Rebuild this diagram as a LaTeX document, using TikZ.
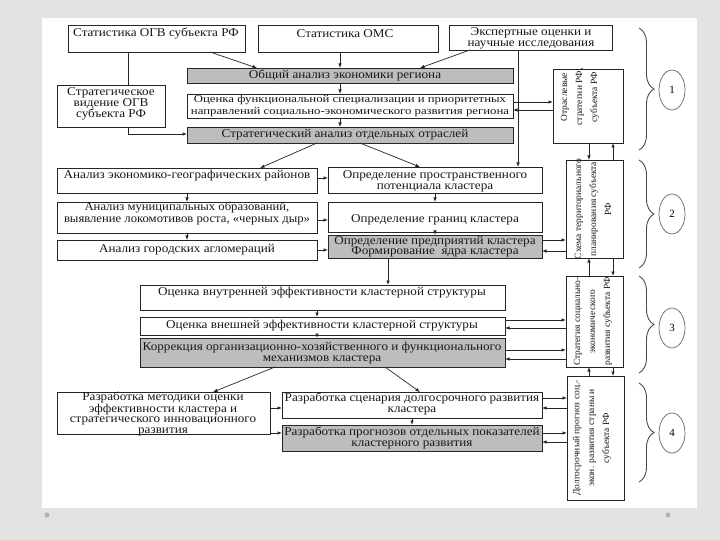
\documentclass[tikz,border=0pt]{standalone}
\usepackage{fontspec}
\setmainfont{Liberation Serif}
\newfontfamily\wf{Liberation Serif}[FakeStretch=1.1]
\newfontfamily\wfb{Liberation Serif}[FakeStretch=1.06]
\newfontfamily\wfw{Liberation Serif}[FakeStretch=1.22]
\usetikzlibrary{arrows.meta,fit,shapes.geometric,decorations.pathreplacing}
\newcommand\bx[6]{\node[#1,fit={(#3,#4) (#5,#6)}] (#2) {};}
\begin{document}
\begin{tikzpicture}[x=1bp,y=-1bp,
 box/.style={draw=black!85,line width=0.7bp,inner sep=0pt,outer sep=0pt},
 gbox/.style={box,fill=gray!52},
 txt/.style={inner sep=0pt,align=center,text=black!90},
 fA/.style={font=\wf\fontsize{12}{12}\selectfont},
 fS/.style={font=\wf\fontsize{12}{11}\selectfont},
 fR/.style={font=\fontsize{9.5}{15}\selectfont,rotate=90},
 arr/.style={draw=black!85,line width=0.7bp,-{Latex[length=4.5bp,width=3.5bp]}},
 ln/.style={draw=black!85,line width=0.7bp},
 brc/.style={draw=black!70,line width=0.9bp,decorate,decoration={brace,amplitude=15bp}},
 num/.style={draw=black!60,line width=0.7bp,ellipse,minimum width=26bp,minimum height=40bp,inner sep=0pt,font=\fontsize{11}{12}\selectfont}]
\useasboundingbox (0,0) rectangle (720,540);
\fill[gray!22] (0,0) rectangle (720,540);
\fill[white] (42,18) rectangle (697,508);
\fill[gray!60] (47,515) circle (2.5);
\fill[gray!60] (668,515) circle (2.5);

% section 1
\bx{box}{ogv}{68}{25}{245}{52}
\bx{box}{oms}{258}{25}{438}{52}
\bx{box}{eksp}{449}{25}{612}{50}
\bx{gbox}{obsh}{187}{68}{513}{83}
\bx{box}{ocen}{187}{94}{513}{118}
\bx{gbox}{strat}{187}{127}{513}{143}
\bx{box}{vis}{57}{85}{165}{127}
\bx{box}{otr}{553}{69}{623}{143}

\node[txt,fA] (t1) at (156,34) {Статистика ОГВ субъекта РФ};
\node[txt,fA] (t2) at (345,34) {Статистика ОМС};
\node[txt,fS] (t3) at (531,38) {Экспертные оценки и\\научные исследования};
\node[txt,fA] (t4) at (345,75.5) {Общий анализ экономики региона};
\node[txt,font=\wfw\fontsize{10.5}{11.5}\selectfont] (t5) at (350,106) {Оценка функциональной специализации и приоритетных\\направлений социально-экономического развития региона};
\node[txt,fA] (t6) at (345,135) {Стратегический анализ отдельных отраслей};
\node[txt,fS] (t7) at (111,104) {Стратегическое\\видение ОГВ\\субъекта РФ};
\node[txt,fR] (t8) at (580,97) {Отраслевые\\стратегии РФ,\\субъекта РФ};

% section 2
\bx{box}{ekgeo}{57}{168}{317}{193}
\bx{box}{munic}{57}{202}{317}{233}
\bx{box}{aglo}{57}{240}{317}{260}
\bx{box}{potent}{328}{167}{542}{193}
\bx{box}{granic}{328}{202}{542}{232}
\bx{gbox}{predpr}{328}{235}{542}{258}
\bx{box}{shema}{566}{160}{623}{258}

\node[txt,fA] (t12) at (187,176) {Анализ экономико-географических районов};
\node[txt,font=\wfb\fontsize{12}{13}\selectfont] (t13) at (187,213.5) {Анализ муниципальных образований,\\выявление локомотивов роста, «черных дыр»};
\node[txt,fA] (t14) at (187,249.5) {Анализ городских агломераций};
\node[txt,fS] (t15) at (435,181) {Определение пространственного\\потенциала кластера};
\node[txt,fA] (t16) at (435,220) {Определение границ кластера};
\node[txt,font=\wf\fontsize{12}{10.5}\selectfont] (t17) at (435,246.5) {Определение предприятий кластера\\Формирование\ \ ядра кластера};
\node[txt,fR] (t9) at (593,209) {Схема территориального\\планирования субъекта\\РФ};

% section 3
\bx{box}{vnutr}{140}{285}{505}{310}
\bx{box}{vnesh}{140}{317}{505}{335}
\bx{gbox}{korr}{140}{338}{505}{367}
\bx{box}{strsub}{566}{276}{623}{367}
\node[txt,fA] (t18) at (322,293) {Оценка внутренней эффективности кластерной структуры};
\node[txt,fA] (t19) at (322,326) {Оценка внешней эффективности кластерной структуры};
\node[txt,fS] (t20) at (322,353.5) {Коррекция организационно-хозяйственного и функционального\\механизмов кластера};
\node[txt,fR] (t10) at (593,321.5) {Стратегия социально-\\экономического\\развития субъекта РФ};

% section 4
\bx{box}{metod}{57}{392}{270}{434}
\bx{box}{scen}{282}{392}{542}{418}
\bx{gbox}{progn}{282}{425}{542}{451}
\bx{box}{dolg}{567}{376}{624}{500}
\node[txt,font=\wf\fontsize{12}{10.5}\selectfont] (t21) at (163,414) {Разработка методики оценки\\эффективности кластера и\\стратегического инновационного\\развития};
\node[txt,fS] (t22) at (412,404) {Разработка сценария долгосрочного развития\\кластера};
\node[txt,fS] (t23) at (412,438) {Разработка прогнозов отдельных показателей\\кластерного развития};
\node[txt,fR] (t11) at (592,438) {Долгосрочный прогноз соц.-\\экон. развития страны и\\субъекта РФ};

% connectors section 1
\draw[arr] (ogv.south -| 210,0) -- (obsh.north -| 257,0);
\draw[arr] (oms.south -| 340,0) -- (obsh.north -| 340,0);
\draw[arr] (eksp.south -| 470,0) -- (obsh.north -| 420,0);
\draw[arr] (obsh.south -| 340,0) -- (ocen.north -| 340,0);
\draw[arr] (ocen.south -| 340,0) -- (strat.north -| 340,0);
\draw[ln] (ogv.south -| 128,0) -- (vis.north -| 128,0);
\draw[arr] (vis.south -| 128,0) |- (strat.west |- 0,134);
\draw[arr] (ocen.east |- 0,102) -- (otr.west |- 0,102);
\draw[arr] (otr.west |- 0,110) -- (ocen.east |- 0,110);
\draw[arr] (eksp.south -| 518,0) -- (potent.north -| 518,0);
\draw[arr] (strat.south -| 317,0) -- (ekgeo.north -| 260,0);
\draw[arr] (strat.south -| 360,0) -- (potent.north -| 420,0);
\draw[arr] (otr.south -| 589,0) -- (shema.north -| 589,0);
\draw[arr] (shema.north -| 613,0) -- (otr.south -| 613,0);

% section 2
\draw[arr] (ekgeo.south) -- (munic.north);
\draw[arr] (munic.south) -- (aglo.north);
\draw[arr] (potent.south) -- (granic.north);
\draw[arr] (granic.south) -- (predpr.north);
\draw[arr] (ekgeo.east |- 0,178) -- (potent.west |- 0,178);
\draw[arr] (munic.east |- 0,220) -- (granic.west |- 0,220);
\draw[arr] (aglo.east |- 0,250) -- (predpr.west |- 0,250);
\draw[arr] (predpr.east |- 0,240) -- (shema.west |- 0,240);
\draw[arr] (shema.west |- 0,251) -- (predpr.east |- 0,251);
\draw[arr] (strsub.north -| 589,0) -- (shema.south -| 589,0);
\draw[arr] (shema.south -| 613,0) -- (strsub.north -| 613,0);
\draw[arr] (predpr.south -| 388,0) -- (vnutr.north -| 388,0);

% section 3
\draw[arr] (vnutr.south -| 317,0) -- (vnesh.north -| 317,0);
\draw[arr] (vnesh.south -| 317,0) -- (korr.north -| 317,0);
\draw[arr] (vnesh.east |- 0,320) -- (strsub.west |- 0,320);
\draw[arr] (strsub.west |- 0,328) -- (vnesh.east |- 0,328);
\draw[arr] (korr.east |- 0,350) -- (strsub.west |- 0,350);
\draw[arr] (strsub.west |- 0,359) -- (korr.east |- 0,359);
\draw[arr] (dolg.north -| 589,0) -- (strsub.south -| 589,0);
\draw[arr] (strsub.south -| 613,0) -- (dolg.north -| 613,0);
\draw[arr] (korr.south -| 275,0) -- (metod.north -| 213,0);
\draw[arr] (korr.south -| 385,0) -- (scen.north -| 420,0);

% section 4
\draw[arr] (scen.south -| 412,0) -- (progn.north -| 412,0);
\draw[arr] (metod.east |- 0,408) -- (scen.west |- 0,408);
\draw[arr] (metod.east |- 0,433) -- (progn.west |- 0,433);
\draw[arr] (scen.east |- 0,398) -- (dolg.west |- 0,398);
\draw[arr] (dolg.west |- 0,408) -- (scen.east |- 0,408);
\draw[arr] (progn.east |- 0,433) -- (dolg.west |- 0,433);
\draw[arr] (dolg.west |- 0,442) -- (progn.east |- 0,442);

% braces
\draw[brc] (639,28) -- (639,150);
\draw[brc] (639,160) -- (639,268);
\draw[brc] (639,276) -- (639,373);
\draw[brc] (639,383) -- (639,482);
\node[num] (n1) at (672,90) {1};
\node[num] (n2) at (672,214) {2};
\node[num] (n3) at (672,328) {3};
\node[num] (n4) at (672,433) {4};
\end{tikzpicture}
\end{document}
